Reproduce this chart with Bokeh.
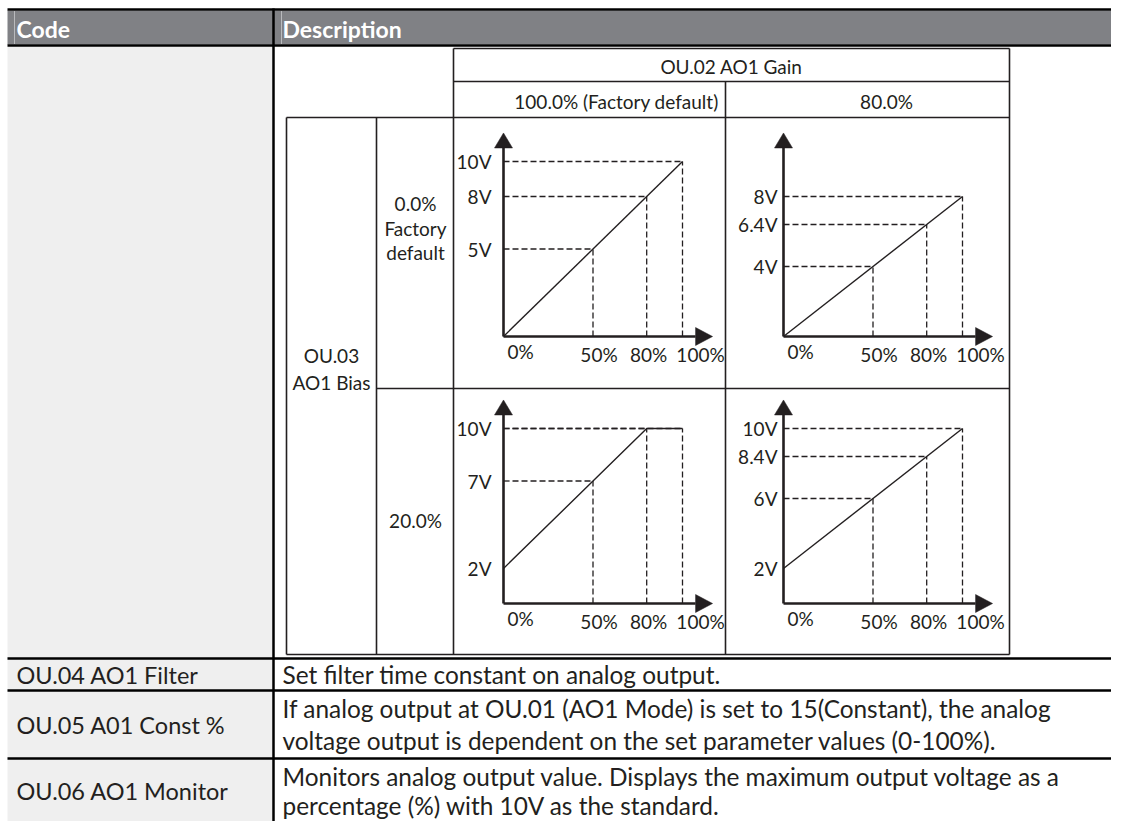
from bokeh.plotting import figure
from bokeh.models import Range1d
from bokeh.embed import file_html
from bokeh.resources import INLINE
from bokeh.core.properties import value

# ---------------- data ----------------
header_labels = ["Code", "Description"]
code_labels = ["OU.04 AO1 Filter", "OU.05 A01 Const %", "OU.06 AO1 Monitor"]
desc_lines = [
    "Set filter time constant on analog output.",
    "If analog output at OU.01 (AO1 Mode) is set to 15(Constant), the analog",
    "voltage output is dependent on the set parameter values (0-100%).",
    "Monitors analog output value. Displays the maximum output voltage as a",
    "percentage (%) with 10V as the standard.",
]
gain_title = "OU.02 AO1 Gain"
gain_labels = ["100.0% (Factory default)", "80.0%"]
bias_title = ["OU.03", "AO1 Bias"]
bias_labels_0 = ["0.0%", "Factory", "default"]
bias_labels_1 = ["20.0%"]

x_tick_pct = [0, 50, 80, 100]
x_tick_labels = ["0%", "50%", "80%", "100%"]
guide_pct = [50, 80, 100]

# chart A: bias 0.0 %, gain 100 %
curve_pct_A = [0, 100]
curve_v_A = [0, 10]
guide_v_A = [5, 8, 10]
ytick_v_A = [10, 8, 5]
ytick_lbl_A = ["10V", "8V", "5V"]
# chart B: bias 0.0 %, gain 80 %
curve_pct_B = [0, 100]
curve_v_B = [0, 8]
guide_v_B = [4, 6.4, 8]
ytick_v_B = [8, 6.4, 4]
ytick_lbl_B = ["8V", "6.4V", "4V"]
# chart C: bias 20 %, gain 100 %
curve_pct_C = [0, 80, 100]
curve_v_C = [2, 10, 10]
guide_v_C = [7, 10, 10]
ytick_v_C = [10, 7, 2]
ytick_lbl_C = ["10V", "7V", "2V"]
# chart D: bias 20 %, gain 80 %
curve_pct_D = [0, 100]
curve_v_D = [2, 10]
guide_v_D = [6, 8.4, 10]
ytick_v_D = [10, 8.4, 6, 2]
ytick_lbl_D = ["10V", "8.4V", "6V", "2V"]

# ---------------- layout (pixel space) ----------------
W, H = 1111, 821
INK = "#231f20"
FONT = value("Lato")

p = figure(width=W, height=H, x_range=Range1d(0, W), y_range=Range1d(H, 0),
           output_backend="svg", toolbar_location=None, min_border=0)
p.axis.visible = False
p.xgrid.visible = False
p.ygrid.visible = False
p.outline_line_color = None
p.background_fill_color = "white"
p.border_fill_color = "white"

RIGHT = W + 2
# backgrounds
p.quad(left=[7], right=[RIGHT], top=[10], bottom=[44], fill_color="#808185", line_color=None)
p.quad(left=[7], right=[272], top=[46], bottom=[H + 2], fill_color="#efefef", line_color=None)

# header light separators
p.segment(x0=[14, 281], y0=[10, 10], x1=[14, 281], y1=[44, 44], line_color="#b9babd", line_width=1)

# main table black lines
row_lines = [9, 45, 658, 690, 758]
p.segment(x0=[7] * len(row_lines), y0=row_lines, x1=[RIGHT] * len(row_lines), y1=row_lines,
          line_color="black", line_width=2.5)
p.segment(x0=[273], y0=[8], x1=[273], y1=[H + 2], line_color="black", line_width=2.5)

# inner table lines
ih = [(453, 1009, 48), (453, 1009, 81), (286, 1009, 117), (376, 1009, 388), (286, 1009, 654)]
p.segment(x0=[a for a, b, y in ih], y0=[y for a, b, y in ih], x1=[b for a, b, y in ih],
          y1=[y for a, b, y in ih], line_color=INK, line_width=1.6)
iv = [(453, 48, 654), (725, 81, 654), (1009, 48, 654), (286, 117, 654), (376, 117, 654)]
p.segment(x0=[x for x, a, b in iv], y0=[a for x, a, b in iv], x1=[x for x, a, b in iv],
          y1=[b for x, a, b in iv], line_color=INK, line_width=1.6)

def txt(xs, ys, texts, size, align="left", color=INK, style="normal"):
    p.text(x=xs, y=ys, text=texts, text_font=FONT, text_font_size=size, text_font_style=style,
           text_color=color, text_align=align, text_baseline="middle")

# header text
txt([16, 282], [28, 28], header_labels, "23px", color="white", style="bold")

# code column text
txt([16] * 3, [674, 724, 790], code_labels, "23.5px")
# description text
txt([282] * 5, [674, 708, 740, 776, 805], desc_lines, "24.4px")

# inner table text
CH = "19px"
txt([731], [66], [gain_title], CH, align="center")
txt([616, 886], [101, 101], gain_labels, CH, align="center")
txt([331, 331], [355, 382], bias_title, CH, align="center")
txt([415] * 3, [203, 228, 252], bias_labels_0, CH, align="center")
txt([415], [520], bias_labels_1, CH, align="center")

# ---------------- mini charts, each on its own pair of scales ----------------
col_origin_x = [503, 783]     # pixel position of 0 % per gain column
row_origin_y = [336, 603]     # pixel position of 0 V per bias row
PX_PER_PCT = 1.79
PX_PER_V = 17.5
for j, ox in enumerate(col_origin_x):
    p.extra_x_ranges[f"c{j}"] = Range1d((0 - ox) / PX_PER_PCT, (W - ox) / PX_PER_PCT)
for i, oy in enumerate(row_origin_y):
    p.extra_y_ranges[f"r{i}"] = Range1d((oy - H) / PX_PER_V, (oy - 0) / PX_PER_V)

Y_TIP = 11.63                 # volts, tip of y arrow
Y_HEAD = 15 / PX_PER_V
Y_HALF = 9 / PX_PER_PCT
X_TIP = 116.8                 # percent, tip of x arrow
X_HEAD = 17 / PX_PER_PCT
X_HALF = 9 / PX_PER_V

charts = [
    (0, 0, curve_pct_A, curve_v_A, guide_v_A, ytick_v_A, ytick_lbl_A),
    (0, 1, curve_pct_B, curve_v_B, guide_v_B, ytick_v_B, ytick_lbl_B),
    (1, 0, curve_pct_C, curve_v_C, guide_v_C, ytick_v_C, ytick_lbl_C),
    (1, 1, curve_pct_D, curve_v_D, guide_v_D, ytick_v_D, ytick_lbl_D),
]
label_gap = [12, 6]
xlabel_dx = [17, 6, 2, 18]
xlabel_dy = [15, 18, 18, 18]

for (i, j, cx, cv, gv, tv, tl) in charts:
    kw = dict(x_range_name=f"c{j}", y_range_name=f"r{i}")
    # dashed guides
    p.segment(x0=[0] * len(gv), y0=gv, x1=guide_pct, y1=gv, line_color=INK, line_width=1.3,
              line_dash="6 3", **kw)
    p.segment(x0=guide_pct, y0=[0] * len(gv), x1=guide_pct, y1=gv, line_color=INK, line_width=1.3,
              line_dash="6 3", **kw)
    # response curve
    p.line(cx, cv, line_color=INK, line_width=1.4, **kw)
    # axes with arrow heads
    p.segment(x0=[0, 0], y0=[0, 0], x1=[0, X_TIP - X_HEAD], y1=[Y_TIP - Y_HEAD, 0],
              line_color=INK, line_width=2.6, **kw)
    p.patches(xs=[[-Y_HALF, 0, Y_HALF], [X_TIP - X_HEAD, X_TIP, X_TIP - X_HEAD]],
              ys=[[Y_TIP - Y_HEAD, Y_TIP, Y_TIP - Y_HEAD], [X_HALF, 0, -X_HALF]],
              fill_color=INK, line_color=INK, line_width=0.5, **kw)
    # labels
    p.text(x=[0] * len(tv), y=tv, text=tl, x_offset=-label_gap[j], text_align="right",
           text_baseline="middle", text_font=FONT, text_font_size=CH, text_color=INK, **kw)
    p.text(x=x_tick_pct, y=[0] * 4, text=x_tick_labels, x_offset=xlabel_dx, y_offset=xlabel_dy,
           text_align="center", text_baseline="middle", text_font=FONT, text_font_size=CH,
           text_color=INK, **kw)

open("out.html", "w").write(file_html(p, INLINE))
